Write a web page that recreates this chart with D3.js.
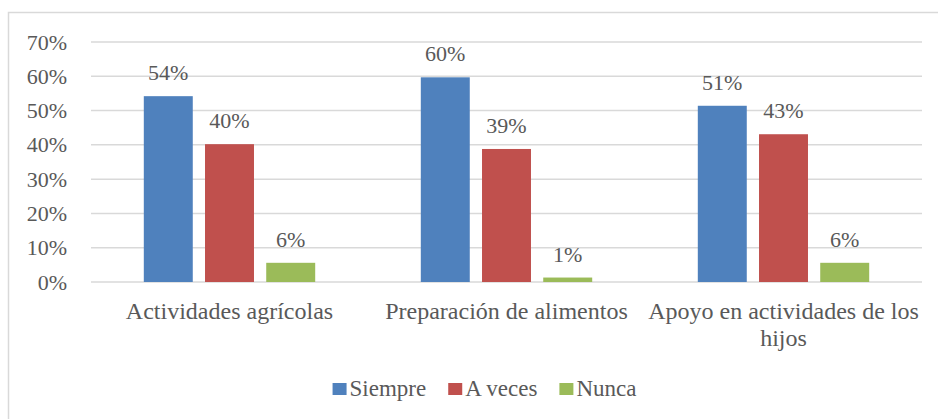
<!DOCTYPE html>
<html>
<head>
<meta charset="utf-8">
<script src="https://cdn.jsdelivr.net/npm/d3@7"></script>
<style>
  body { margin: 0; background: #fff; }
</style>
</head>
<body>
<div id="chart"></div>
<script>
// data
var categories = ["Actividades agrícolas", "Preparación de alimentos", "Apoyo en actividades de los hijos"];
var seriesNames = ["Siempre", "A veces", "Nunca"];
var siempre = [0.542, 0.597, 0.514];
var aVeces  = [0.402, 0.388, 0.431];
var nunca   = [0.056, 0.013, 0.056];
var yTicks = [0, 0.1, 0.2, 0.3, 0.4, 0.5, 0.6, 0.7];
var colors = ["#4F81BD", "#C0504D", "#9BBB59"];

var FONT = "Liberation Serif, Tinos, DejaVu Serif, serif";
var TXT = "#595959";

var w = 938, h = 419;
var plotL = 91, plotR = 922, plotT = 42, plotB = 282;

var svg = d3.select("#chart")
            .append("svg")
            .attr("width", w)
            .attr("height", h)
            .style("font-family", FONT);

//chart area border (right and bottom edges fall off the picture)
svg.append("rect")
   .attr("x", 8.5).attr("y", 12.5)
   .attr("width", 940).attr("height", 420)
   .attr("fill", "none")
   .attr("stroke", "#D9D9D9")
   .attr("stroke-width", 1.5);

var x0 = d3.scaleBand().domain(categories).range([plotL, plotR]);
var x1 = d3.scaleBand().domain(seriesNames)
           .range([52.8, x0.bandwidth() - 52.8])
           .paddingInner(0.2);
var y = d3.scaleLinear().domain([0, 0.7]).range([plotB, plotT]);

//gridlines
svg.append("g")
   .selectAll("line")
   .data(yTicks)
   .enter().append("line")
   .attr("x1", plotL).attr("x2", plotR)
   .attr("y1", function(d){ return y(d); })
   .attr("y2", function(d){ return y(d); })
   .attr("stroke", "#D9D9D9")
   .attr("stroke-width", 1.5);

//y axis labels
var yAxis = d3.axisLeft(y).tickValues(yTicks).tickFormat(d3.format(".0%")).tickSize(0).tickPadding(24);
var ag = svg.append("g").attr("transform", "translate(" + plotL + ",0)").call(yAxis);
ag.attr("font-family", FONT).attr("font-size", 22);
ag.select(".domain").remove();
ag.selectAll("text")
  .attr("fill", TXT);

var rows = categories.map(function(c, i){
  return { cat: c, vals: [siempre[i], aVeces[i], nunca[i]] };
});

var groups = svg.append("g")
                .selectAll(".grp")
                .data(rows)
                .enter().append("g")
                .attr("class", "grp")
                .attr("transform", function(d){ return "translate(" + x0(d.cat) + ",0)"; });

var bars = groups.selectAll(".bar")
                 .data(function(d){ return d.vals.map(function(v, j){ return { s: seriesNames[j], v: v, j: j }; }); })
                 .enter();

bars.append("rect")
    .attr("x", function(d){ return x1(d.s); })
    .attr("y", function(d){ return y(d.v); })
    .attr("width", x1.bandwidth())
    .attr("height", function(d){ return plotB - y(d.v); })
    .attr("fill", function(d){ return colors[d.j]; });

bars.append("text")
    .attr("x", function(d){ return x1(d.s) + x1.bandwidth() / 2; })
    .attr("y", function(d){ return y(d.v) - 16; })
    .attr("text-anchor", "middle")
    .attr("font-family", FONT)
    .attr("font-size", 22)
    .attr("fill", TXT)
    .text(function(d){ return d3.format(".0%")(d.v); });

//category labels, wrapped to band width
var catText = svg.append("g")
   .selectAll("text")
   .data(categories)
   .enter().append("text")
   .attr("text-anchor", "middle")
   .attr("font-family", FONT)
   .attr("font-size", 24)
   .attr("fill", TXT)
   .attr("x", function(d){ return x0(d) + x0.bandwidth() / 2; })
   .attr("y", 319);

catText.each(function(d){
  var t = d3.select(this);
  var words = d.split(" ");
  var line = [];
  var cx = x0(d) + x0.bandwidth() / 2;
  var tspan = t.append("tspan").attr("x", cx).attr("dy", 0);
  words.forEach(function(wd){
    line.push(wd);
    tspan.text(line.join(" "));
    if (tspan.node().getComputedTextLength() > x0.bandwidth() + 4 && line.length > 1) {
      line.pop();
      tspan.text(line.join(" "));
      line = [wd];
      tspan = t.append("tspan").attr("x", cx).attr("dy", 27).text(wd);
    }
  });
});

//legend
var leg = svg.append("g");
var lx = 0;
seriesNames.forEach(function(s, i){
  var g = leg.append("g");
  g.append("rect")
   .attr("x", 0).attr("y", -13)
   .attr("width", 14).attr("height", 12)
   .attr("fill", colors[i]);
  var tx = g.append("text")
   .attr("x", 17).attr("y", 0)
   .attr("font-family", FONT)
   .attr("font-size", 23)
   .attr("fill", TXT)
   .text(s);
  g.attr("transform", "translate(" + lx + ",0)");
  lx += 17 + tx.node().getComputedTextLength() + 22;
});
var legW = lx - 22;
leg.attr("transform", "translate(" + (484.5 - legW / 2) + ",396)");
</script>
</body>
</html>
